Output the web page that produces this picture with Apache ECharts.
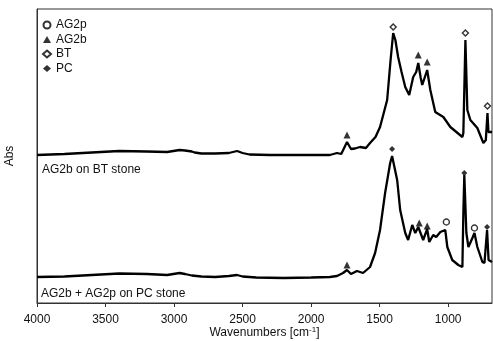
<!DOCTYPE html>
<html>
<head>
<meta charset="utf-8">
<script src="https://cdn.jsdelivr.net/npm/echarts@6/dist/echarts.min.js"></script>
<style>
  html, body { margin: 0; padding: 0; background: #fff; }
  #chart { width: 493px; height: 341px; }
</style>
</head>
<body>
<div id="chart"></div>
<script>
// AG2b on BT stone (upper trace, offset)
const btWn = [4000, 3800, 3600, 3400, 3200, 3050, 2960, 2920, 2870, 2850, 2800, 2700, 2600, 2540, 2500, 2450, 2300, 2100, 1950, 1863, 1811, 1780, 1738, 1709, 1680, 1643, 1600, 1570, 1530, 1497, 1470, 1445, 1420, 1401, 1385, 1365, 1340, 1313, 1284, 1255, 1233, 1218, 1200, 1189, 1175, 1153, 1130, 1094, 1035, 984, 896, 889, 874, 860, 838, 787, 743, 725, 713, 706, 680]
const btAbs = [1.48, 1.49, 1.505, 1.52, 1.515, 1.51, 1.53, 1.525, 1.515, 1.505, 1.495, 1.495, 1.50, 1.52, 1.50, 1.485, 1.48, 1.48, 1.48, 1.48, 1.50, 1.49, 1.61, 1.54, 1.545, 1.56, 1.55, 1.60, 1.66, 1.76, 1.90, 2.03, 2.43, 2.70, 2.63, 2.46, 2.31, 2.16, 2.08, 2.26, 2.31, 2.40, 2.25, 2.18, 2.18, 2.33, 2.13, 1.91, 1.86, 1.76, 1.66, 1.70, 2.63, 1.93, 1.83, 1.75, 1.60, 1.63, 1.90, 1.71, 1.71]

// AG2b + AG2p on PC stone (lower trace)
const pcWn = [4000, 3800, 3600, 3400, 3200, 3050, 2960, 2920, 2870, 2800, 2700, 2600, 2540, 2500, 2400, 2200, 2000, 1863, 1811, 1767, 1738, 1709, 1665, 1621, 1570, 1533, 1497, 1460, 1423, 1409, 1372, 1350, 1313, 1292, 1262, 1240, 1218, 1182, 1153, 1138, 1109, 1087, 1057, 1021, 1006, 970, 926, 896, 889, 882, 867, 852, 823, 808, 787, 750, 735, 716, 705, 680]
const pcAbs = [0.26, 0.265, 0.28, 0.295, 0.29, 0.28, 0.30, 0.29, 0.275, 0.265, 0.26, 0.27, 0.28, 0.265, 0.255, 0.25, 0.255, 0.26, 0.27, 0.30, 0.33, 0.29, 0.32, 0.30, 0.36, 0.50, 0.73, 1.10, 1.40, 1.47, 1.23, 0.93, 0.70, 0.63, 0.78, 0.70, 0.76, 0.63, 0.74, 0.61, 0.68, 0.66, 0.71, 0.73, 0.56, 0.43, 0.38, 0.36, 0.90, 1.28, 0.70, 0.56, 0.65, 0.70, 0.56, 0.41, 0.40, 0.73, 0.43, 0.41]

// band markers [wavenumber, height]
const ag2pMarks = [[1013, 0.81], [808, 0.75]]
const ag2bMarks = [[1738, 1.68], [1218, 2.48], [1153, 2.41], [1738, 0.38], [1211, 0.80], [1153, 0.77]]
const btMarks = [[1401, 2.76], [874, 2.70], [713, 1.97]]
const pcMarks = [[1409, 1.54], [882, 1.30], [716, 0.76]]

const xTicks = [1000, 1500, 2000, 2500, 3000, 3500, 4000]

const zip = (xs, ys) => xs.map((x, i) => [x, ys[i]])

const chart = echarts.init(document.getElementById('chart'))

const font = 'Liberation Sans, Arial, sans-serif'

function markSeries(name, symbol, filled, data) {
  return {
    name: name,
    type: 'scatter',
    symbol: symbol,
    symbolSize: symbol === 'triangle' ? 7 : 6,
    data: data,
    z: 5,
    itemStyle: {
      color: filled ? '#000' : '#fff',
      borderColor: '#000',
      borderWidth: filled ? 0 : 1.4,
    },
  }
}

const option = {
  animation: false,
  grid: {
    left: 37,
    right: 1,
    top: 9,
    bottom: 38,
    outerBoundsMode: 'none',
    containLabel: false,
    show: true,
    borderColor: '#333',
    borderWidth: 1,
  },
  legend: {
    orient: 'vertical',
    left: 37,
    top: 14,
    itemWidth: 8,
    itemHeight: 7,
    itemGap: 2.5,
    textStyle: { fontFamily: font, fontSize: 12, color: '#111' },
    data: ['AG2p', 'AG2b', 'BT', 'PC'],
  },
  xAxis: {
    type: 'value',
    min: 680,
    max: 4000,
    inverse: true,
    name: 'Wavenumbers [cm{sup|-1}]',
    nameLocation: 'middle',
    nameGap: 23,
    nameMoveOverlap: false,
    nameTextStyle: {
      fontFamily: font,
      fontSize: 12,
      lineHeight: 14,
      color: '#111',
      rich: {
        sup: { fontFamily: font, fontSize: 8, lineHeight: 14, verticalAlign: 'top', color: '#111' },
      },
    },
    splitLine: { show: false },
    axisLine: { show: true, lineStyle: { color: '#333', width: 1 } },
    axisTick: { show: true, length: 4, customValues: xTicks, lineStyle: { color: '#333' } },
    axisLabel: {
      customValues: xTicks,
      margin: 11,
      fontFamily: font,
      fontSize: 12,
      color: '#111',
      formatter: (v) => String(v),
    },
  },
  yAxis: {
    type: 'value',
    min: 0,
    max: 2.94,
    name: 'Abs',
    nameLocation: 'middle',
    nameGap: 21,
    nameRotate: 90,
    nameTextStyle: { fontFamily: font, fontSize: 12, color: '#111' },
    splitLine: { show: false },
    axisLine: { show: true, lineStyle: { color: '#333', width: 1 } },
    axisTick: { show: false },
    axisLabel: { show: false },
  },
  graphic: [
    {
      type: 'text',
      left: 42,
      top: 164,
      style: { text: 'AG2b on BT stone', font: '12px ' + font, fill: '#111' },
    },
    {
      type: 'text',
      left: 41,
      top: 288,
      style: { text: 'AG2b + AG2p on PC stone', font: '12px ' + font, fill: '#111' },
    },
  ],
  series: [
    {
      type: 'line',
      data: zip(btWn, btAbs),
      symbol: 'none',
      lineStyle: { color: '#000', width: 2.3 },
    },
    {
      type: 'line',
      data: zip(pcWn, pcAbs),
      symbol: 'none',
      lineStyle: { color: '#000', width: 2.3 },
    },
    markSeries('AG2p', 'circle', false, ag2pMarks),
    markSeries('AG2b', 'triangle', true, ag2bMarks),
    markSeries('BT', 'diamond', false, btMarks),
    markSeries('PC', 'diamond', true, pcMarks),
  ],
}
chart.setOption(option)
</script>
</body>
</html>
